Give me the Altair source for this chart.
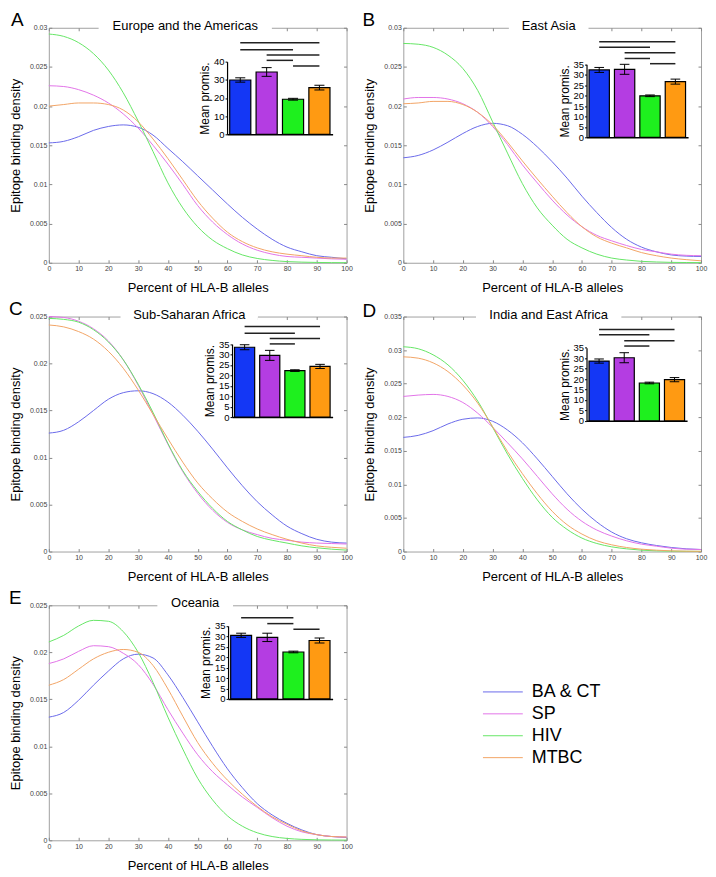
import altair as alt
import pandas as pd

SERIES = ["BA & CT", "SP", "HIV", "MTBC"]
LINE_COLORS = ["#6a6aea", "#e274e8", "#66e666", "#f2a466"]
BAR_COLORS = ["#1437f5", "#b43de2", "#1ef01e", "#ff9a12"]
PCT = [0, 5, 10, 15, 20, 25, 30, 35, 40, 45, 50, 55, 60, 65, 70, 75, 80, 85, 90, 95, 100]

# ---- Panel A: Europe and the Americas ----
A_BACT = [0.0153, 0.0155, 0.0161, 0.0169, 0.0174, 0.0176, 0.0173, 0.0163, 0.0146, 0.0129, 0.0111, 0.0093, 0.0075, 0.0058, 0.0043, 0.0030, 0.0020, 0.0014, 0.0009, 0.0007, 0.0005]
A_SP = [0.0226, 0.0225, 0.0221, 0.0214, 0.0204, 0.0190, 0.0172, 0.0150, 0.0126, 0.0100, 0.0073, 0.0052, 0.0036, 0.0024, 0.0016, 0.0011, 0.0008, 0.0007, 0.0006, 0.0005, 0.00045]
A_HIV = [0.0292, 0.0289, 0.0281, 0.0267, 0.0246, 0.0217, 0.0181, 0.0142, 0.0102, 0.0070, 0.0046, 0.0029, 0.0018, 0.0010, 0.00055, 0.0003, 0.00015, 0.00008, 0.00004, 0.00002, 0.00001]
A_MTBC = [0.0200, 0.0202, 0.0204, 0.0204, 0.0202, 0.0195, 0.0180, 0.0158, 0.0133, 0.0106, 0.0079, 0.0057, 0.0039, 0.0027, 0.0019, 0.0014, 0.0011, 0.0009, 0.0007, 0.0006, 0.0006]
A_MEAN = [29.9, 34.3, 19.3, 25.7]
A_ERR = [1.2, 2.4, 0.5, 1.3]
A_SIG = [(1, 4, 50.4), (1, 3, 46.6), (2, 4, 43.7), (2, 3, 40.7), (3, 4, 37.6)]

# ---- Panel B: East Asia ----
B_BACT = [0.0134, 0.0137, 0.0144, 0.0154, 0.0165, 0.0174, 0.0178, 0.0175, 0.0164, 0.0148, 0.0129, 0.0108, 0.0085, 0.0064, 0.0045, 0.0030, 0.0020, 0.0014, 0.0010, 0.00085, 0.0008]
B_SP = [0.0209, 0.0211, 0.0211, 0.0209, 0.0203, 0.0192, 0.0174, 0.0151, 0.0125, 0.0102, 0.0080, 0.0061, 0.0046, 0.0035, 0.0028, 0.0022, 0.0017, 0.0014, 0.0011, 0.00095, 0.0009]
B_HIV = [0.0280, 0.0279, 0.0275, 0.0265, 0.0248, 0.0220, 0.0180, 0.0140, 0.0101, 0.0070, 0.0048, 0.0030, 0.0019, 0.0011, 0.0006, 0.00035, 0.00018, 0.0001, 0.00005, 0.00003, 0.00002]
B_MTBC = [0.0203, 0.0204, 0.0206, 0.0206, 0.0202, 0.0192, 0.0176, 0.0154, 0.0130, 0.0107, 0.0085, 0.0064, 0.0046, 0.0033, 0.0025, 0.0019, 0.0013, 0.0009, 0.0006, 0.0004, 0.00025]
B_MEAN = [32.3, 32.6, 19.9, 26.7]
B_ERR = [1.2, 2.4, 0.4, 1.2]
B_SIG = [(1, 4, 45.8), (1, 3, 43.2), (2, 4, 40.5), (2, 3, 37.8), (3, 4, 35.3)]

# ---- Panel C: Sub-Saharan Africa ----
C_BACT = [0.0126, 0.0129, 0.0138, 0.0150, 0.0162, 0.0169, 0.0171, 0.0168, 0.0159, 0.0145, 0.0128, 0.0109, 0.0089, 0.0070, 0.0053, 0.0039, 0.0027, 0.0019, 0.0013, 0.0010, 0.0009]
C_SP = [0.0250, 0.0249, 0.0245, 0.0237, 0.0224, 0.0204, 0.0177, 0.0146, 0.0114, 0.0085, 0.0062, 0.0044, 0.0031, 0.0023, 0.0018, 0.0014, 0.0012, 0.0010, 0.0009, 0.00085, 0.0008]
C_HIV = [0.0248, 0.0247, 0.0244, 0.0236, 0.0223, 0.0204, 0.0178, 0.0148, 0.0115, 0.0086, 0.0064, 0.0046, 0.0032, 0.0023, 0.0016, 0.0012, 0.0009, 0.0006, 0.0004, 0.00025, 0.00015]
C_MTBC = [0.0241, 0.0239, 0.0234, 0.0226, 0.0213, 0.0195, 0.0172, 0.0146, 0.0120, 0.0095, 0.0073, 0.0056, 0.0042, 0.0032, 0.0024, 0.0018, 0.0013, 0.0009, 0.0006, 0.00045, 0.00035]
C_MEAN = [33.5, 29.6, 22.3, 24.3]
C_ERR = [1.2, 2.4, 0.4, 1.0]
C_SIG = [(1, 4, 43.4), (1, 3, 40.2), (2, 4, 37.7), (2, 3, 35.1)]

# ---- Panel D: India and East Africa ----
D_BACT = [0.0170, 0.0173, 0.0180, 0.0190, 0.0197, 0.0199, 0.0194, 0.0181, 0.0162, 0.0138, 0.0112, 0.0086, 0.0063, 0.0044, 0.0029, 0.0019, 0.0013, 0.0009, 0.0006, 0.0004, 0.0003]
D_SP = [0.0231, 0.0233, 0.0234, 0.0231, 0.0222, 0.0206, 0.0185, 0.0162, 0.0138, 0.0112, 0.0086, 0.0063, 0.0045, 0.0032, 0.0023, 0.0016, 0.0011, 0.0008, 0.0005, 0.00035, 0.0003]
D_HIV = [0.0305, 0.0302, 0.0293, 0.0278, 0.0255, 0.0224, 0.0185, 0.0145, 0.0109, 0.0077, 0.0051, 0.0033, 0.0020, 0.0012, 0.0007, 0.0004, 0.0002, 0.0001, 0.00005, 0.00003, 0.00002]
D_MTBC = [0.0290, 0.0288, 0.0281, 0.0268, 0.0248, 0.0221, 0.0186, 0.0149, 0.0116, 0.0086, 0.0060, 0.0040, 0.0026, 0.0016, 0.0010, 0.0006, 0.00035, 0.0002, 0.0001, 0.00005, 0.00003]
D_MEAN = [28.6, 30.2, 18.1, 19.7]
D_ERR = [1.0, 2.4, 0.4, 1.0]
D_SIG = [(1, 4, 43.7), (1, 3, 41.2), (2, 4, 38.3), (2, 3, 35.8)]

# ---- Panel E: Oceania ----
E_BACT = [0.0131, 0.0136, 0.0149, 0.0165, 0.0180, 0.0193, 0.0198, 0.0194, 0.0176, 0.0152, 0.0126, 0.0100, 0.0076, 0.0056, 0.0039, 0.0027, 0.0018, 0.0011, 0.0006, 0.0004, 0.0003]
E_SP = [0.0188, 0.0193, 0.0201, 0.0207, 0.0206, 0.0199, 0.0187, 0.0166, 0.0139, 0.0114, 0.0091, 0.0073, 0.0059, 0.0046, 0.0035, 0.0024, 0.0015, 0.0009, 0.0006, 0.0004, 0.00035]
E_HIV = [0.0211, 0.0218, 0.0228, 0.0234, 0.0233, 0.0222, 0.0200, 0.0168, 0.0131, 0.0097, 0.0066, 0.0043, 0.0026, 0.0015, 0.0008, 0.0004, 0.0002, 0.0001, 0.00005, 0.00003, 0.00002]
E_MTBC = [0.0165, 0.0171, 0.0182, 0.0193, 0.0200, 0.0203, 0.0200, 0.0186, 0.0161, 0.0132, 0.0104, 0.0082, 0.0064, 0.0049, 0.0036, 0.0025, 0.0017, 0.0010, 0.0006, 0.0004, 0.00035]
E_MEAN = [30.5, 29.5, 22.5, 28.0]
E_ERR = [1.0, 2.0, 0.4, 1.2]
E_SIG = [(1, 3, 38.9), (2, 3, 36.1), (3, 4, 33.4)]

FONT = "Liberation Sans"
W, H = 299, 236

LEGEND = alt.Legend(
    title=None, orient="none", legendX=447, legendY=658,
    symbolType="M-4,0H4", symbolSize=100, symbolStrokeWidth=1,
    labelFontSize=18, labelFont=FONT, labelColor="#000", labelOffset=20,
    rowPadding=4, padding=0,
)


def panel(letter, title, curves, means, errs, sig, ymax, ystep, imax, istep, geo):
    rows = []
    for s, vals in zip(SERIES, curves):
        for p, v in zip(PCT, vals):
            rows.append({"pct": p, "density": v, "series": s})
    df = pd.DataFrame(rows)
    nt = int(round(ymax / ystep)) + 1
    yticks = [round(i * ystep, 4) for i in range(nt)]
    xticks = list(range(0, 101, 10))
    xsc = alt.Scale(domain=[0, 100], nice=False, zero=False)
    ysc = alt.Scale(domain=[0, ymax], nice=False)

    lines = alt.Chart(df).mark_line(interpolate="monotone", strokeWidth=1).encode(
        x=alt.X("pct:Q", scale=xsc,
                axis=alt.Axis(title="Percent of HLA-B alleles", values=xticks, orient="bottom",
                              domain=False, offset=-3, tickSize=3, tickColor="#888",
                              labelFontSize=7, labelColor="#444", labelPadding=2,
                              titleFontSize=13, titleFont=FONT, titleFontWeight="normal",
                              titlePadding=10, grid=False, labelFlush=False)),
        y=alt.Y("density:Q", scale=ysc,
                axis=alt.Axis(title="Epitope binding density", values=yticks, format="~g", orient="left",
                              domain=False, offset=-3, tickSize=3, tickColor="#888",
                              labelFontSize=7, labelColor="#444", labelPadding=2,
                              titleFontSize=13, titleFont=FONT, titleFontWeight="normal",
                              titlePadding=7, grid=False, labelFlush=False)),
        color=alt.Color("series:N", scale=alt.Scale(domain=SERIES, range=LINE_COLORS), legend=LEGEND),
        detail="series:N",
    )
    # mirrored inward ticks on the top and right frame edges
    ghost = alt.Chart(df).mark_line(opacity=0).encode(
        x=alt.X("pct:Q", scale=xsc,
                axis=alt.Axis(title=None, values=xticks, orient="top", labels=False, domain=False,
                              offset=-3, tickSize=3, tickColor="#888", grid=False)),
        y=alt.Y("density:Q", scale=ysc,
                axis=alt.Axis(title=None, values=yticks, orient="right", labels=False, domain=False,
                              offset=-3, tickSize=3, tickColor="#888", grid=False)),
        detail="series:N",
    )
    main = alt.layer(lines, ghost).resolve_axis(x="independent", y="independent")

    bdf = pd.DataFrame({
        "pos": [1, 2, 3, 4], "mean": means, "err": errs, "fillc": BAR_COLORS,
    })
    bdf["zero"] = 0
    bdf["left"] = bdf["pos"] - 0.4
    bdf["right"] = bdf["pos"] + 0.4
    bdf["lo"] = bdf["mean"] - bdf["err"]
    bdf["hi"] = bdf["mean"] + bdf["err"]
    bdf["cl"] = bdf["pos"] - 0.19
    bdf["cr"] = bdf["pos"] + 0.19
    sdf = pd.DataFrame(sig, columns=["s", "e", "y"])

    x0, x1, yb, yt = geo["inset"]
    xs = alt.Scale(domain=[0.5, 4.5], range=[x0, x1], nice=False, zero=False)
    ys = alt.Scale(domain=[0, imax], range=[yb, yt], nice=False)
    ni = int(round(imax / istep)) + 1
    xax = alt.Axis(title=None, orient="bottom", offset=yb - H, ticks=False, labels=False,
                   domainColor="#000", domainWidth=1.5, grid=False)
    yax = alt.Axis(title="Mean promis.", orient="left", offset=-x0, values=[i * istep for i in range(ni)],
                   domainColor="#000", domainWidth=1.2, tickColor="#000", tickSize=2, tickWidth=1,
                   labelFontSize=9.5, labelColor="#000", labelPadding=1, labelFont=FONT,
                   titleFontSize=12, titleFont=FONT, titleFontWeight="normal", titleColor="#000",
                   titlePadding=2, grid=False, labelFlush=False)

    bars = alt.Chart(bdf).mark_bar(stroke="#000", strokeWidth=1.2).encode(
        x=alt.X("left:Q", scale=xs, axis=xax), x2="right:Q",
        y=alt.Y("mean:Q", scale=ys, axis=yax), y2="zero:Q",
        fill=alt.Fill("fillc:N", scale=None),
    )
    err = alt.Chart(bdf).mark_rule(color="#000", strokeWidth=1).encode(
        x=alt.X("pos:Q", scale=xs, axis=xax),
        y=alt.Y("lo:Q", scale=ys, axis=yax), y2="hi:Q",
    )
    cap_hi = alt.Chart(bdf).mark_rule(color="#000", strokeWidth=1).encode(
        x=alt.X("cl:Q", scale=xs, axis=xax), x2="cr:Q",
        y=alt.Y("hi:Q", scale=ys, axis=yax),
    )
    cap_lo = alt.Chart(bdf).mark_rule(color="#000", strokeWidth=1).encode(
        x=alt.X("cl:Q", scale=xs, axis=xax), x2="cr:Q",
        y=alt.Y("lo:Q", scale=ys, axis=yax),
    )
    sigl = alt.Chart(sdf).mark_rule(color="#222", strokeWidth=1.5).encode(
        x=alt.X("s:Q", scale=xs, axis=xax), x2="e:Q",
        y=alt.Y("y:Q", scale=ys, axis=yax),
    )
    inset = alt.layer(bars, err, cap_hi, cap_lo, sigl)

    one = pd.DataFrame({"t": [title], "l": [letter]})
    gx0, gx1 = geo["gap"]
    gap = alt.Chart(one).mark_rect(fill="white").encode(
        x=alt.value(gx0), x2=alt.value(gx1), y=alt.value(-3), y2=alt.value(5))
    ttl = alt.Chart(one).mark_text(fontSize=13, font=FONT, color="#000", baseline="middle",
                                   align="center").encode(
        text="t:N", x=alt.value((gx0 + gx1) / 2), y=alt.value(-2))
    lx, ly = geo["letter"]
    let = alt.Chart(one).mark_text(fontSize=19, font=FONT, color="#000", baseline="top",
                                   align="left").encode(
        text="l:N", x=alt.value(lx), y=alt.value(ly))

    return alt.layer(main, inset, gap, ttl, let).resolve_scale(
        x="independent", y="independent").properties(width=W, height=H)


pA = panel("A", "Europe and the Americas", [A_BACT, A_SP, A_HIV, A_MTBC], A_MEAN, A_ERR, A_SIG,
           0.03, 0.005, 40, 10, {"inset": (179, 285, 107, 34), "gap": (50, 224), "letter": (-38, -17)})
pB = panel("B", "East Asia", [B_BACT, B_SP, B_HIV, B_MTBC], B_MEAN, B_ERR, B_SIG,
           0.03, 0.005, 35, 5, {"inset": (184, 286, 110, 36.7), "gap": (106, 186), "letter": (-41, -17)})
pC = panel("C", "Sub-Saharan Africa", [C_BACT, C_SP, C_HIV, C_MTBC], C_MEAN, C_ERR, C_SIG,
           0.025, 0.005, 35, 5, {"inset": (184, 285, 101, 27.7), "gap": (72, 210), "letter": (-40, -17)})
pD = panel("D", "India and East Africa", [D_BACT, D_SP, D_HIV, D_MTBC], D_MEAN, D_ERR, D_SIG,
           0.035, 0.005, 35, 5, {"inset": (184, 285, 104.7, 31.3), "gap": (73, 219), "letter": (-41, -15)})
pE = panel("E", "Oceania", [E_BACT, E_SP, E_HIV, E_MTBC], E_MEAN, E_ERR, E_SIG,
           0.025, 0.005, 35, 5, {"inset": (180, 285, 94, 20.7), "gap": (109, 185), "letter": (-40, -16)})

chart = alt.concat(pA, pB, pC, pD, pE, columns=2, spacing={"row": 54, "column": 57},
                   bounds="flush").properties(
    padding={"left": 0, "top": 0, "right": 0, "bottom": 0}
).configure(font=FONT).configure_view(stroke="#a0a0a0", strokeWidth=1)

chart.save("out.html", embed_options={"renderer": "svg", "actions": False})
